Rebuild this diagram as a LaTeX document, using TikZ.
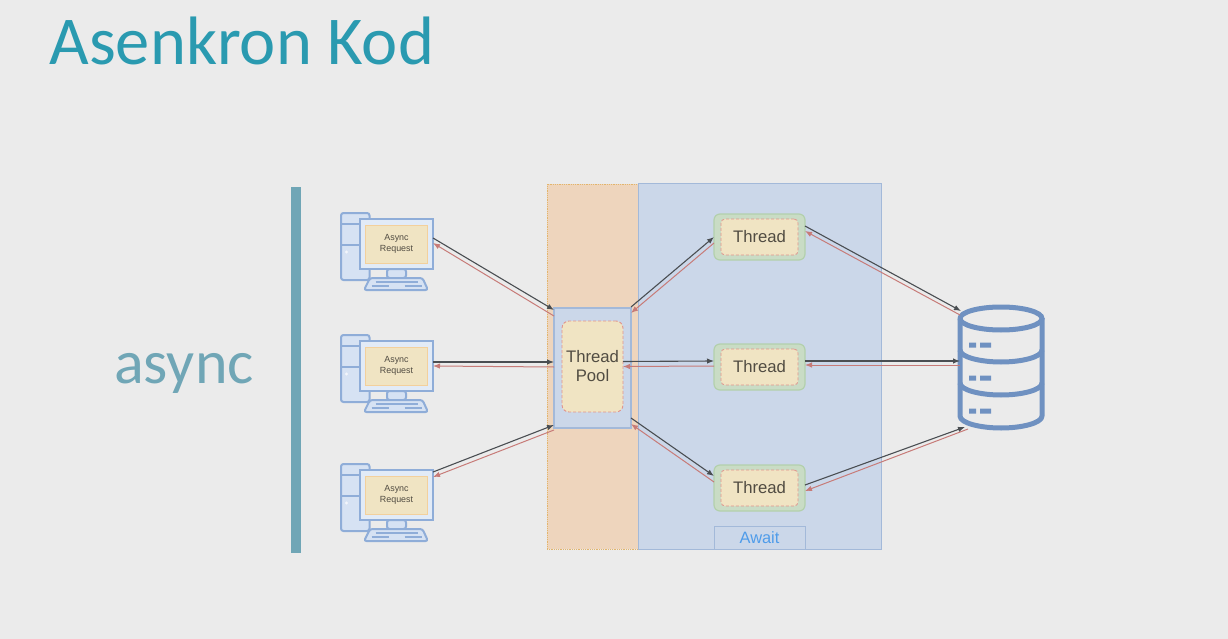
\documentclass[tikz,border=0pt]{standalone}
\usepackage{fontspec}
\setmainfont{Liberation Sans}
\newfontfamily\titlefont{Carlito}
\usetikzlibrary{arrows.meta}
\usetikzlibrary{positioning}
\definecolor{bgcol}{HTML}{EBEBEB}
\definecolor{titlecol}{HTML}{2A9AB0}
\definecolor{asynccol}{HTML}{70A6B6}
\definecolor{bluefill}{HTML}{CBD7E9}
\definecolor{blueline}{HTML}{A3B9D9}
\definecolor{pcline}{HTML}{8FADD8}
\definecolor{pcfill}{HTML}{D6E2F3}
\definecolor{orangefill}{HTML}{EED5BD}
\definecolor{orangeline}{HTML}{E2B56C}
\definecolor{greenfill}{HTML}{C9DCC5}
\definecolor{greenline}{HTML}{B3D0AC}
\definecolor{beige}{HTML}{F0E4C3}
\definecolor{dashred}{HTML}{E0938C}
\definecolor{dbcol}{HTML}{6F91C1}
\definecolor{txtcol}{HTML}{514C42}
\definecolor{waitcol}{HTML}{4F9CEA}
\definecolor{callline}{HTML}{4A4E52}
\definecolor{backline}{HTML}{C77B78}
\tikzset{>={Latex[length=7pt,width=5.5pt]}, inner sep=0pt, outer sep=0pt, font=\fontsize{16.7}{19}\selectfont, text=txtcol}
\tikzstyle{band} = [draw=orangeline, densely dotted, line width=0.8pt, fill=orangefill, minimum width=91pt, minimum height=365pt]
\tikzstyle{await} = [draw=blueline, fill=bluefill, line width=1pt, minimum width=243pt, minimum height=365pt]
\tikzstyle{poolbox} = [draw=blueline, fill=bluefill, line width=1.2pt, minimum width=77pt, minimum height=120pt]
\tikzstyle{poolcore} = [draw=dashred, densely dashed, line width=0.9pt, fill=beige, rounded corners=7pt, minimum width=61pt, minimum height=91pt, align=center]
\tikzstyle{thread} = [draw=greenline, fill=greenfill, line width=1.2pt, rounded corners=6pt, minimum width=91pt, minimum height=46pt]
\tikzstyle{threadcore} = [draw=dashred, densely dashed, line width=0.8pt, fill=beige, rounded corners=4pt, minimum width=77pt, minimum height=36pt]
\tikzstyle{waitbox} = [draw=blueline, line width=1pt, minimum width=91pt, minimum height=23pt, text=waitcol, font=\fontsize{16.4}{18}\selectfont]
\tikzstyle{pcpart} = [draw=pcline, fill=pcfill, line width=2pt, rounded corners=2.5pt]
\tikzstyle{screen} = [draw=pcline, fill=pcfill!70!white, line width=2pt, minimum width=73pt, minimum height=50pt]
\tikzstyle{request} = [draw=beige!80!orange, fill=beige, minimum width=62pt, minimum height=38pt, align=center, font=\fontsize{8.9}{10.5}\selectfont]
\tikzstyle{call} = [->, draw=callline, line width=1.1pt]
\tikzstyle{back} = [->, draw=backline, line width=1pt]
\tikzstyle{dbline} = [draw=dbcol, line width=5pt]
\newcommand{\computer}[3]{%
	\begin{scope}[shift={(#2,#3)}]
		\draw [pcpart] (-55.5,-31) rectangle (-27,36);
		\draw [pcpart, rounded corners=0pt] (-55.5,-20) -- (-27,-20);
		\draw [pcpart, rounded corners=0pt] (-55.5,1) -- (-27,1);
		\fill [white!70!pcfill] (-50,8) circle (1.6);
		\draw [pcpart] (-9.5,25) rectangle (9.5,34);
		\draw [pcpart] (-26.5,34) -- (26,34) -- (31.5,46) -- (-32.5,46) -- cycle;
		\draw [draw=pcline, line width=1.2pt] (-21,38) -- (21,38) (-25,42) -- (-8,42) (8,42) -- (25,42);
		\node [screen] (mon#1) at (0,0) {};
		\node [request] (req#1) at (0,0) {Async\\Request};
	\end{scope}}
\begin{document}
\begin{tikzpicture}[x=1pt,y=-1pt]
		\useasboundingbox [fill=bgcol] (0,0) rectangle (1228,639);

		\node [anchor=base west, text=titlecol, font=\titlefont\fontsize{68.5}{68.5}\selectfont] (title) at (49.5,65) {Asenkron Kod};
		\node [anchor=base, text=asynccol, font=\titlefont\fontsize{62}{62}\selectfont] (async) at (184,383) {async};
		\node [fill=asynccol, minimum width=10pt, minimum height=366pt] (bar) at (296,370) {};

		\node [band] (threadband) at (592.5,366.5) {};
		\node [await] (awaitband) at (759.5,366.5) {};

		\computer{1}{396.5}{244}
		\computer{2}{396.5}{366}
		\computer{3}{396.5}{495}

		\node [poolbox] (poolouter) at (592.5,368) {};
		\node [poolcore] (pool) at (592.5,366.5) {Thread\\Pool};

		\node [thread] (thread1) at (759.5,237) {};
		\node [thread, below=84pt of thread1] (thread2) {};
		\node [thread, below=75pt of thread2] (thread3) {};
		\node [threadcore] at (thread1) {Thread};
		\node [threadcore] at (thread2) {Thread};
		\node [threadcore] at (thread3) {Thread};
		\node [waitbox, below=15pt of thread3] (wait) {Await};

		% database
		\node [minimum width=82pt, minimum height=121pt] (db) at (1001,367.5) {};
		\draw [dbline] (db.north west) ++(0,11.5) arc [start angle=180, end angle=-180, x radius=41, y radius=-11.5];
		\draw [dbline, line join=round] (960,318) -- (960,416) .. controls (960,423) and (980,428) .. (1001,428) .. controls (1022,428) and (1042,423) .. (1042,416) -- (1042,318);
		\draw [dbline] (960,350) .. controls (960,357) and (980,362) .. (1001,362) .. controls (1022,362) and (1042,357) .. (1042,350);
		\draw [dbline] (960,383) .. controls (960,390) and (980,395) .. (1001,395) .. controls (1022,395) and (1042,390) .. (1042,383);
		\fill [dbcol] (969,342.5) rectangle (976,347.5) (980,342.5) rectangle (991,347.5);
		\fill [dbcol] (969,375.5) rectangle (976,380.5) (980,375.5) rectangle (991,380.5);
		\fill [dbcol] (969,408.5) rectangle (976,413.5) (980,408.5) rectangle (991,413.5);

		% requests to pool
		\draw [call] ([yshift=6pt]mon1.east) -- ([yshift=-2pt]poolouter.north west);
		\draw [back] ([yshift=-8pt]poolouter.north west) -- ([yshift=1pt]mon1.east);
		\draw [call] ([yshift=4pt]mon2.east) -- ([yshift=6pt]poolouter.west);
		\draw [back] ([yshift=1pt]poolouter.west) -- (mon2.east);
		\draw [call] ([yshift=23pt]mon3.east) -- ([yshift=3pt]poolouter.south west);
		\draw [back] ([yshift=-2pt]poolouter.south west) -- ([yshift=18pt]mon3.east);

		% pool to threads
		\draw [call] ([yshift=1pt]poolouter.north east) -- (thread1.west);
		\draw [back] ([yshift=-6pt]thread1.west) -- ([yshift=-5pt]poolouter.north east);
		\draw [call] ([yshift=5pt]pool.east) -- ([yshift=6pt]thread2.west);
		\draw [back] ([yshift=1pt]thread2.west) -- (pool.east);
		\draw [call] ([yshift=10pt]poolouter.south east) -- ([yshift=12pt]thread3.west);
		\draw [back] ([yshift=6pt]thread3.west) -- ([yshift=4pt]poolouter.south east);

		% threads to database
		\draw [call] ([yshift=11pt]thread1.east) -- (961,311);
		\draw [back] (960,315) -- ([yshift=6pt]thread1.east);
		\draw [call] ([yshift=6pt]thread2.east) -- ([yshift=6.5pt]db.west);
		\draw [back] ([yshift=2.5pt]db.west) -- ([yshift=2pt]thread2.east);
		\draw [call] ([yshift=3pt]thread3.east) -- (965,427);
		\draw [back] (968,429) -- ([yshift=-3pt]thread3.east);
	\end{tikzpicture}
\end{document}
